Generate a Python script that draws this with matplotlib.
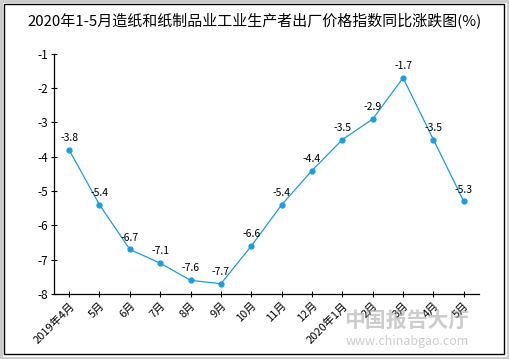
import matplotlib
matplotlib.use('Agg')
import matplotlib.pyplot as plt
from matplotlib.patches import Rectangle

plt.rcParams['font.family'] = ['Noto Sans CJK SC', 'DejaVu Sans']

months = ['2019年4月', '5月', '6月', '7月', '8月', '9月', '10月', '11月',
          '12月', '2020年1月', '2月', '3月', '4月', '5月']
values = [-3.8, -5.4, -6.7, -7.1, -7.6, -7.7, -6.6, -5.4, -4.4, -3.5,
          -2.9, -1.7, -3.5, -5.3]
y_ticks = [-8, -7, -6, -5, -4, -3, -2, -1]

fig = plt.figure(figsize=(5.09, 3.59), dpi=100)
fig.patch.set_facecolor('white')

# outer frame (gray edge + black inner border)
fig.add_artist(Rectangle((0.002, 0.003), 0.996, 0.994, transform=fig.transFigure,
                         fill=False, edgecolor='#c8c8c8', lw=2))
fig.add_artist(Rectangle((0.008, 0.013), 0.982, 0.975, transform=fig.transFigure,
                         fill=False, edgecolor='black', lw=1))

ax = fig.add_axes([0.106, 0.181, 0.835, 0.669])
x = list(range(len(months)))
ax.plot(x, values, color='#1a9ee0', lw=0.9, marker='o', markersize=3.5)

for xi, v in zip(x, values):
    ax.text(xi, v + 0.2, f'{v:g}', ha='center', va='bottom', fontsize=7.5)

ax.set_xlim(-0.5, len(months) - 0.5)
ax.set_ylim(-8, -1)
ax.set_yticks(y_ticks)
ax.set_yticklabels([str(t) for t in y_ticks], fontsize=8.5)
ax.set_xticks(x)
ax.set_xticklabels(months, rotation=45, ha='right', rotation_mode='anchor', fontsize=8)
ax.tick_params(axis='both', direction='inout', length=5, width=0.8, pad=2)
for s in ['top', 'right']:
    ax.spines[s].set_visible(False)
for s in ['left', 'bottom']:
    ax.spines[s].set_linewidth(0.9)

fig.text(0.5, 0.943, '2020年1-5月造纸和纸制品业工业生产者出厂价格指数同比涨跌图(%)',
         ha='center', va='center', fontsize=10.8)

# watermark
fig.text(0.80, 0.108, '中国报告大厅', ha='center', va='center', fontsize=15,
         color='#9a9a9a', alpha=0.5, fontweight='bold')
fig.text(0.80, 0.048, 'www.chinabgao.com', ha='center', va='center', fontsize=9,
         color='#9a9a9a', alpha=0.5)

fig.savefig('out.png', dpi=100)
